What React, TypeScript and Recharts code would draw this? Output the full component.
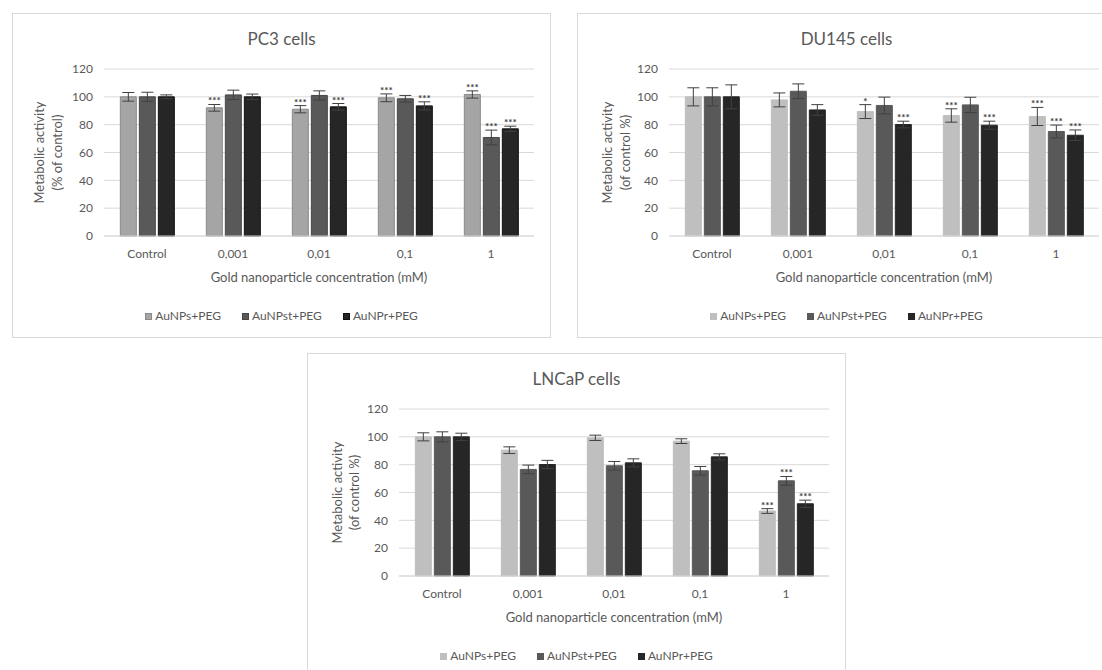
import React from "react";
import { BarChart, Bar, XAxis, YAxis, CartesianGrid, ErrorBar, LabelList, Legend } from "recharts";

const categories = ["Control", "0,001", "0,01", "0,1", "1"];
const seriesNames = ["AuNPs+PEG", "AuNPst+PEG", "AuNPr+PEG"];
const yTicks = [0, 20, 40, 60, 80, 100, 120];

// PC3
const pc3Nps = [100, 92.1, 91.1, 99.3, 101.7];
const pc3NpsErr = [3.1, 2.4, 2.6, 2.8, 2.6];
const pc3NpsSig = ["", "***", "***", "***", "***"];
const pc3Npst = [100, 101.4, 101, 98.6, 70.8];
const pc3NpstErr = [3.3, 3.4, 3.3, 2.4, 5.3];
const pc3NpstSig = ["", "", "", "", "***"];
const pc3Npr = [100, 100, 92.8, 93.5, 77];
const pc3NprErr = [1.4, 2, 2.4, 2.9, 1.9];
const pc3NprSig = ["", "", "***", "***", "***"];

// DU145
const duNps = [100, 97.8, 89.4, 86.6, 85.9];
const duNpsErr = [6.5, 5, 5, 4.8, 6.5];
const duNpsSig = ["", "", "*", "***", "***"];
const duNpst = [100, 104, 93.8, 94.2, 75.1];
const duNpstErr = [6.5, 5.3, 6, 5.5, 4.6];
const duNpstSig = ["", "", "", "", "***"];
const duNpr = [100, 90.6, 80.1, 79.6, 72.4];
const duNprErr = [8.6, 3.8, 2.4, 2.9, 3.8];
const duNprSig = ["", "", "***", "***", "***"];

// LNCaP
const lnNps = [100, 90.4, 99.3, 96.9, 46.7];
const lnNpsErr = [2.9, 2.4, 1.9, 1.7, 1.7];
const lnNpsSig = ["", "", "", "", "***"];
const lnNpst = [100, 76.6, 79.2, 75.6, 68.4];
const lnNpstErr = [3.6, 3.1, 3.1, 3.1, 3.1];
const lnNpstSig = ["", "", "", "", "***"];
const lnNpr = [100, 80.1, 81.3, 85.6, 51.9];
const lnNprErr = [2.6, 3, 2.9, 2.2, 2.6];
const lnNprSig = ["", "", "", "", "***"];

const FONT = "Lato, 'Open Sans', sans-serif";
const TEXT = "#595959";
const GRID = "#d9d9d9";
const W = 539;
const H = 325;

type PanelProps = {
  title: string;
  yLines: string[];
  yLineX: number[];
  values: number[][];
  errors: number[][];
  sig: string[][];
  fills: string[];
  strokes: string[];
  left: number;
  top: number;
};

function Panel({ title, yLines, yLineX, values, errors, sig, fills, strokes, left, top }: PanelProps) {
  const data = categories.map((cat, i) => {
    const row: any = { cat };
    values.forEach((arr, s) => {
      row["v" + s] = arr[i];
      row["e" + s] = errors[s][i];
      row["s" + s] = sig[s][i];
    });
    return row;
  });

  // significance stars sit just above the error bar cap
  const stars = (s: number) => (props: any) => {
    const { x, y, width, height, value, index } = props;
    if (!value) return null;
    const pxPerUnit = height / values[s][index];
    const capY = y - errors[s][index] * pxPerUnit;
    return (
      <text
        x={x + width / 2}
        y={capY}
        textAnchor="middle"
        fontSize={10}
        fontWeight={700}
        fill="#404040"
        fontFamily={FONT}
      >
        {value}
      </text>
    );
  };

  return (
    <div style={{ position: "absolute", left, top, width: W, height: H, background: "#fff" }}>
      <div
        style={{
          position: "absolute",
          top: 14,
          left: 0,
          width: W,
          textAlign: "center",
          fontSize: 17,
          lineHeight: "24px",
          color: TEXT,
          fontFamily: FONT,
        }}
      >
        {title}
      </div>
      <BarChart
        width={W}
        height={H}
        data={data}
        margin={{ top: 56, right: 17, bottom: 72, left: 0 }}
        barCategoryGap="19%"
        barGap={3}
        style={{ fontFamily: FONT }}
      >
        <CartesianGrid vertical={false} stroke={GRID} strokeWidth={1} />
        <XAxis
          dataKey="cat"
          axisLine={{ stroke: GRID }}
          tickLine={false}
          tickMargin={7}
          tick={{ fill: TEXT, fontSize: 12 }}
          height={30}
          label={{
            content: (p: any) => {
              const vb = p.viewBox;
              return (
                <text
                  x={vb.x + vb.width / 2}
                  y={vb.y + 41}
                  textAnchor="middle"
                  dominantBaseline="central"
                  fontSize={13}
                  fill={TEXT}
                  fontFamily={FONT}
                >
                  Gold nanoparticle concentration (mM)
                </text>
              );
            },
          }}
        />
        <YAxis
          domain={[0, 120]}
          ticks={yTicks}
          width={92}
          axisLine={false}
          tickLine={false}
          tickMargin={5}
          tick={{ fill: TEXT, fontSize: 12 }}
          label={{
            content: (p: any) => {
              const vb = p.viewBox;
              const cy = vb.y + vb.height / 2;
              return (
                <g>
                  {yLines.map((line, i) => (
                    <text
                      key={i}
                      transform={`translate(${vb.x + yLineX[i]},${cy}) rotate(-90)`}
                      textAnchor="middle"
                      dominantBaseline="central"
                      fontSize={13}
                      fill={TEXT}
                      fontFamily={FONT}
                    >
                      {line}
                    </text>
                  ))}
                </g>
              );
            },
          }}
        />
        <Legend
          verticalAlign="middle"
          align="center"
          wrapperStyle={{ top: 294, left: 0, width: W }}
          content={() => (
            <div
              style={{
                display: "flex",
                justifyContent: "center",
                gap: 21,
                fontSize: 12,
                lineHeight: "18px",
                color: TEXT,
                fontFamily: FONT,
              }}
            >
              {seriesNames.map((n, i) => (
                <span key={n} style={{ display: "inline-flex", alignItems: "center" }}>
                  <span
                    style={{
                      display: "inline-block",
                      width: 7,
                      height: 7,
                      background: fills[i],
                      border: `1px solid ${strokes[i]}`,
                      boxSizing: "border-box",
                      marginRight: 3,
                    }}
                  />
                  {n}
                </span>
              ))}
            </div>
          )}
        />
        {seriesNames.map((n, s) => (
          <Bar
            key={n}
            dataKey={"v" + s}
            name={n}
            fill={fills[s]}
            stroke={strokes[s]}
            strokeWidth={1}
            isAnimationActive={false}
          >
            <ErrorBar dataKey={"e" + s} width={6} stroke="#404040" strokeWidth={1} direction="y" />
            <LabelList dataKey={"s" + s} content={stars(s)} />
          </Bar>
        ))}
      </BarChart>
      <div
        style={{
          position: "absolute",
          inset: 0,
          border: `1px solid ${GRID}`,
          pointerEvents: "none",
        }}
      />
    </div>
  );
}

export default function App() {
  return (
    <div
      style={{
        position: "fixed",
        left: 0,
        top: 0,
        width: 1102,
        height: 670,
        overflow: "hidden",
        background: "#fff",
      }}
    >
      <Panel
        title="PC3 cells"
        yLines={["Metabolic activity", "(% of control)"]}
        yLineX={[27, 45]}
        values={[pc3Nps, pc3Npst, pc3Npr]}
        errors={[pc3NpsErr, pc3NpstErr, pc3NprErr]}
        sig={[pc3NpsSig, pc3NpstSig, pc3NprSig]}
        fills={["#a5a5a5", "#595959", "#262626"]}
        strokes={["#8a8a8a", "#474747", "#111111"]}
        left={12}
        top={13}
      />
      <Panel
        title="DU145 cells"
        yLines={["Metabolic activity", "(of control %)"]}
        yLineX={[30, 48]}
        values={[duNps, duNpst, duNpr]}
        errors={[duNpsErr, duNpstErr, duNprErr]}
        sig={[duNpsSig, duNpstSig, duNprSig]}
        fills={["#bfbfbf", "#595959", "#262626"]}
        strokes={["#bfbfbf", "#595959", "#262626"]}
        left={577}
        top={13}
      />
      <Panel
        title="LNCaP cells"
        yLines={["Metabolic activity", "(of control %)"]}
        yLineX={[30, 47]}
        values={[lnNps, lnNpst, lnNpr]}
        errors={[lnNpsErr, lnNpstErr, lnNprErr]}
        sig={[lnNpsSig, lnNpstSig, lnNprSig]}
        fills={["#bfbfbf", "#595959", "#262626"]}
        strokes={["#bfbfbf", "#595959", "#262626"]}
        left={307}
        top={353}
      />
    </div>
  );
}
